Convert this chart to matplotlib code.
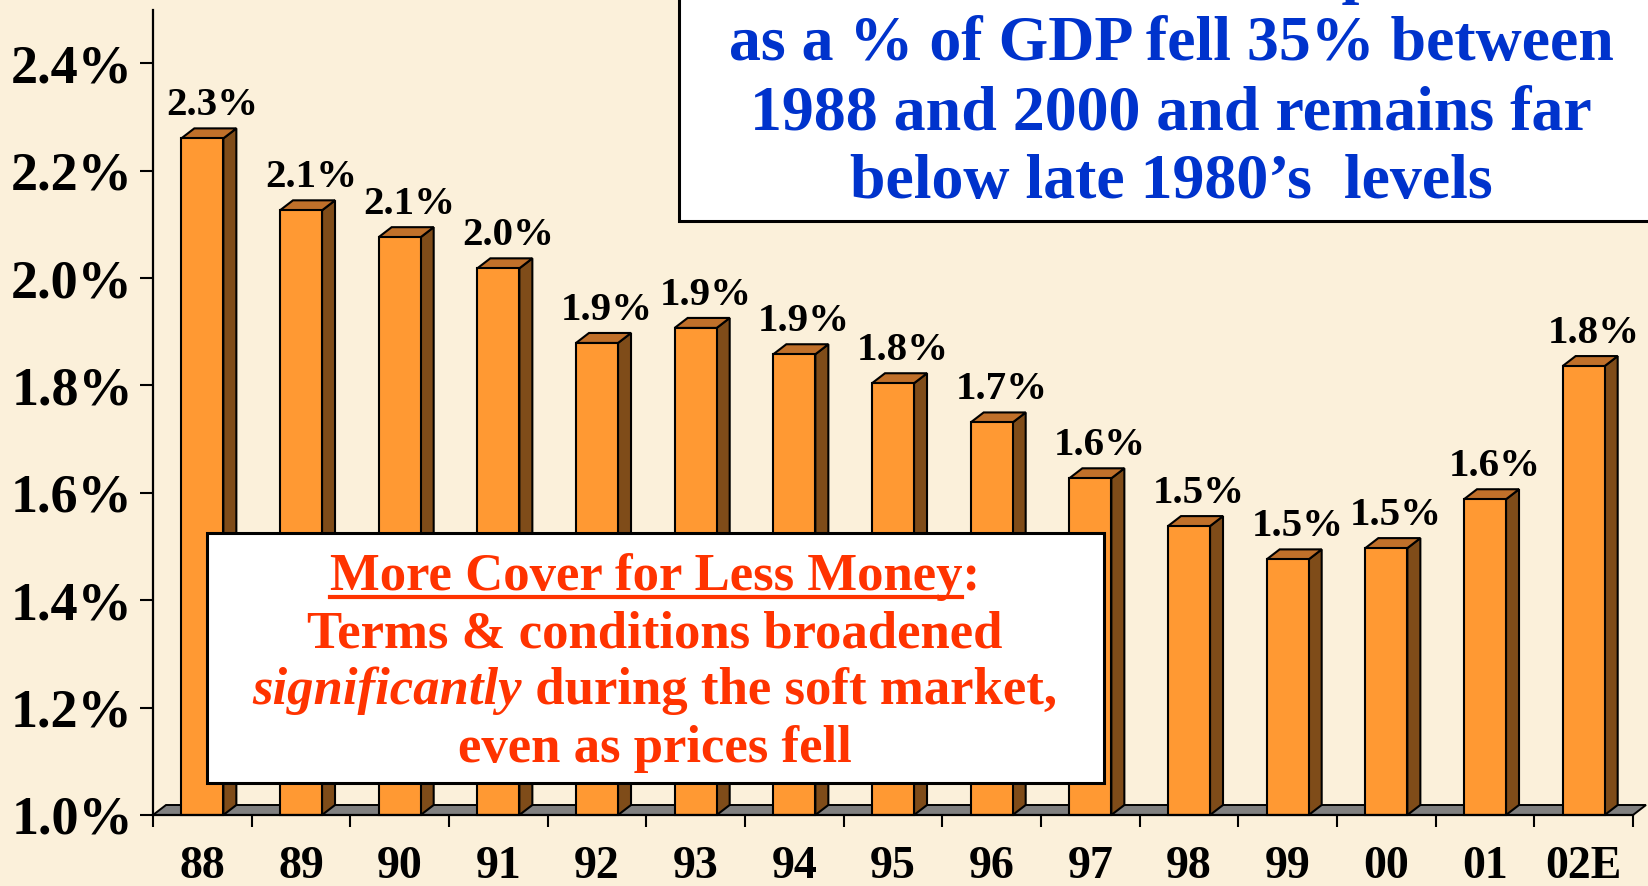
import matplotlib.pyplot as plt
from matplotlib.patches import Polygon, Rectangle
from matplotlib.lines import Line2D

plt.rcParams['font.family'] = ['Liberation Serif', 'DejaVu Serif']
plt.rcParams['font.weight'] = 'bold'

years = ['88', '89', '90', '91', '92', '93', '94', '95', '96', '97', '98', '99', '00', '01', '02E']
pct_gdp = [2.26, 2.126, 2.076, 2.018, 1.879, 1.907, 1.858, 1.804, 1.731, 1.627, 1.538, 1.476, 1.497, 1.588, 1.836]
y_ticks = [1.0, 1.2, 1.4, 1.6, 1.8, 2.0, 2.2, 2.4]

blue_lines = ['Commercial lines net premium',
              'as a % of GDP fell 35% between',
              '1988 and 2000 and remains far',
              'below late 1980\u2019s  levels']

W, H = 1648, 886
BG = '#FBF0DA'
FRONT, SIDE, TOP = '#FF9933', '#7F4C19', '#C0702A'
BLUE, RED = '#0033CC', '#FF3300'


def fx(x):
    return x / W


def fy(y):
    return 1 - y / H


fig = plt.figure(figsize=(W / 100, H / 100), dpi=100, facecolor=BG)
ax = fig.add_axes([fx(153), fy(815), 1480 / W, (815 - 9.5) / H])
ax.set_xlim(0, len(years))
ax.set_ylim(1.0, 2.5)
ax.patch.set_alpha(0)
for s in ['top', 'right']:
    ax.spines[s].set_visible(False)
for s in ['left', 'bottom']:
    ax.spines[s].set_linewidth(1.6)
    ax.spines[s].set_zorder(6)

# 3d depth in data units
n = len(years)
dx = 13 / (1480 / n)
dy = 10 / (805.5 / 1.5)
w = 0.426

floor = Polygon([(0, 1.0), (n, 1.0), (n + dx, 1.0 + dy), (dx, 1.0 + dy)],
                closed=True, facecolor='#808080', edgecolor='black', lw=1.4,
                zorder=1, clip_on=False)
ax.add_patch(floor)

for i, v in enumerate(pct_gdp):
    x0 = i + 0.5 - w / 2
    x1 = x0 + w
    side = Polygon([(x1, 1.0), (x1 + dx, 1.0 + dy), (x1 + dx, v + dy), (x1, v)],
                   facecolor=SIDE, edgecolor='black', lw=1.5, zorder=2, clip_on=False)
    top = Polygon([(x0, v), (x1, v), (x1 + dx, v + dy), (x0 + dx, v + dy)],
                  facecolor=TOP, edgecolor='black', lw=1.5, zorder=2, clip_on=False)
    front = Rectangle((x0, 1.0), w, v - 1.0, facecolor=FRONT, edgecolor='black',
                      lw=1.5, zorder=3, clip_on=False)
    ax.add_patch(side)
    ax.add_patch(top)
    ax.add_patch(front)
    ax.annotate(f'{v:.1f}%', (i + 0.6, v + dy), xytext=(0, 9.5),
                textcoords='offset points', ha='center', va='baseline',
                fontsize=29.5, fontweight='bold', zorder=4)

ax.set_yticks(y_ticks)
ax.set_yticklabels([f'{t:.1f}%' for t in y_ticks])
ax.tick_params(axis='y', direction='out', length=9.5, width=1.5, pad=5,
               labelsize=39)
ax.set_xticks(range(n + 1))
ax.set_xticklabels([])
ax.set_xticks([i + 0.5 for i in range(n)], minor=True)
ax.set_xticklabels(years, minor=True)
ax.tick_params(axis='x', which='major', direction='out', length=8.6, width=1.5)
ax.tick_params(axis='x', which='minor', length=0, pad=22, labelsize=33)

# blue headline box
fig.add_artist(Rectangle((fx(679), fy(221)), 1.0, 1.0, transform=fig.transFigure,
                         facecolor='white', edgecolor='black', lw=2.2, zorder=10))
baselines = [-9, 60, 129, 198]
for line, b in zip(blue_lines, baselines):
    fig.text(fx(1171), fy(b), line, ha='center', va='baseline', color=BLUE,
             fontsize=46, fontweight='bold', zorder=11)

# red note box
fig.add_artist(Rectangle((fx(207), fy(783)), (1104 - 207) / W, (783 - 533) / H,
                         transform=fig.transFigure, facecolor='white',
                         edgecolor='black', lw=2.2, zorder=10))
rend = fig.canvas.get_renderer()
cx = 655
t1 = fig.text(fx(cx), fy(590), 'More Cover for Less Money:', ha='center',
              va='baseline', color=RED, fontsize=38, fontweight='bold', zorder=11)
tmp = fig.text(0, 0, 'More Cover for Less Money', fontsize=38, fontweight='bold')
bb1 = t1.get_window_extent(rend)
uw = tmp.get_window_extent(rend).width
tmp.remove()
fig.add_artist(Line2D([bb1.x0 / W, (bb1.x0 + uw) / W], [fy(597), fy(597)],
                      transform=fig.transFigure, color=RED, lw=3, zorder=11))

fig.text(fx(cx), fy(647), 'Terms & conditions broadened', ha='center',
         va='baseline', color=RED, fontsize=38, fontweight='bold', zorder=11)

part_a = 'significantly'
part_b = ' during the soft market,'
ta = fig.text(0, 0, part_a, fontsize=38, fontweight='bold', style='italic')
tb = fig.text(0, 0, part_b, fontsize=38, fontweight='bold')
wa = ta.get_window_extent(rend).width
wb = tb.get_window_extent(rend).width
ta.remove()
tb.remove()
start = cx - (wa + wb) / 2
fig.text(fx(start), fy(704), part_a, ha='left', va='baseline', color=RED,
         fontsize=38, fontweight='bold', style='italic', zorder=11)
fig.text(fx(start + wa), fy(704), part_b, ha='left', va='baseline', color=RED,
         fontsize=38, fontweight='bold', zorder=11)

fig.text(fx(cx), fy(762), 'even as prices fell', ha='center', va='baseline',
         color=RED, fontsize=38, fontweight='bold', zorder=11)

fig.savefig('out.png', dpi=100, facecolor=BG)
